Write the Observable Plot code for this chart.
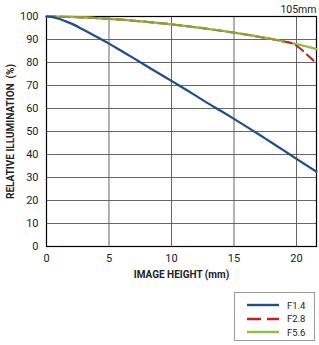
<!DOCTYPE html>
<html><head><meta charset="utf-8">
<script src="https://cdn.jsdelivr.net/npm/d3@7"></script>
<script src="https://cdn.jsdelivr.net/npm/@observablehq/plot@0.6"></script>
<style>
body{margin:0;background:#fff;font-family:Roboto,"Liberation Sans",sans-serif;}
#wrap{position:relative;width:319px;height:345px;}
#legend{position:absolute;left:234px;top:292px;width:81px;height:49px;border:1px solid #999;box-sizing:border-box;font-size:9.5px;color:#222;}
.row{position:absolute;left:12px;height:12px;display:flex;align-items:center;}
.row svg{margin-right:8px;}
</style></head>
<body><div id="wrap"></div>
<script>
const xs = [0, 0.5, 1, 1.5, 2, 3, 4, 5, 6, 7, 8, 9, 10, 11, 12, 13, 14, 15, 16, 17, 18, 19, 20, 21, 21.6];
const f14 = [100, 99.7, 99.0, 98.0, 96.9, 94.1, 91.2, 88.2, 85.0, 81.8, 78.5, 75.2, 72.0, 68.7, 65.4, 62.0, 58.8, 55.5, 52.1, 48.7, 45.2, 41.7, 38.1, 34.6, 32.5];
const f28x = [0, 2, 4, 6, 8, 10, 12, 14, 16, 18, 19, 19.6, 20.2, 20.8, 21.6];
const f28 = [100, 99.8, 99.3, 98.6, 97.7, 96.6, 95.3, 93.8, 92.1, 90.2, 89.1, 88.4, 86.5, 83.6, 79.6];
const f56x = [0, 2, 4, 6, 8, 10, 12, 14, 16, 18, 19, 20, 21, 21.6];
const f56 = [100, 99.8, 99.3, 98.6, 97.7, 96.6, 95.3, 93.8, 92.1, 90.2, 89.1, 88.0, 86.7, 85.8];
const xTicks = [0, 5, 10, 15, 20];
const yTicks = [0, 10, 20, 30, 40, 50, 60, 70, 80, 90, 100];
const seriesNames = ["F1.4", "F2.8", "F5.6"];
const seriesColors = ["#1f4e8c", "#c0202a", "#8dbf44"];

const d14 = xs.map((x, i) => ({x, y: f14[i]}));
const d28 = f28x.map((x, i) => ({x, y: f28[i]}));
const d56 = f56x.map((x, i) => ({x, y: f56[i]}));

const chart = Plot.plot({
  width: 319, height: 290,
  marginTop: 16, marginLeft: 46, marginRight: 3, marginBottom: 44,
  style: {fontFamily: "Roboto, 'Liberation Sans', sans-serif", fontSize: "11px", color: "#222"},
  x: {domain: [0, 21.6], ticks: xTicks, label: "IMAGE HEIGHT (mm)", labelAnchor: "center", labelArrow: "none", labelOffset: 31, tickSize: 0, tickPadding: 8},
  y: {domain: [0, 100], ticks: yTicks, label: "RELATIVE ILLUMINATION  (%)", labelAnchor: "center", labelArrow: "none", labelOffset: 40, tickSize: 0, tickPadding: 8},
  marks: [
    Plot.gridX(xTicks, {stroke: "#555", strokeOpacity: 0.9}),
    Plot.gridY(yTicks, {stroke: "#555", strokeOpacity: 0.9}),
    Plot.frame({stroke: "#000", strokeWidth: 1.2}),
    Plot.line(d56, {x: "x", y: "y", stroke: seriesColors[2], strokeWidth: 2.2, curve: "monotone-x"}),
    Plot.line(d28, {x: "x", y: "y", stroke: seriesColors[1], strokeWidth: 2, strokeDasharray: "9,5", curve: "monotone-x"}),
    Plot.line(d56.filter(d => d.x <= 19.6), {x: "x", y: "y", stroke: seriesColors[2], strokeWidth: 2.2, strokeOpacity: 0.75, curve: "monotone-x"}),
    Plot.line(d14, {x: "x", y: "y", stroke: seriesColors[0], strokeWidth: 2.2, curve: "monotone-x"}),
    Plot.text(["105mm"], {frameAnchor: "top-right", dy: -11, dx: 0, fontSize: 10.5, fill: "#222"})
  ]
});
chart.querySelectorAll('[aria-label="x-axis label"] text, [aria-label="y-axis label"] text').forEach(t => {t.style.fontWeight = "bold"; t.style.fontSize = "10px";});
document.getElementById("wrap").appendChild(chart);

const leg = document.createElement("div");
leg.id = "legend";
seriesNames.forEach((name, i) => {
  const r = document.createElement("div");
  r.className = "row";
  r.style.top = (6 + i * 13.5) + "px";
  const dash = i === 1 ? 'stroke-dasharray="14,6"' : '';
  r.innerHTML = `<svg width="32" height="4"><line x1="0" y1="2" x2="32" y2="2" stroke="${seriesColors[i]}" stroke-width="2.4" ${dash}/></svg><span>${name}</span>`;
  leg.appendChild(r);
});
document.getElementById("wrap").appendChild(leg);
</script></body></html>
